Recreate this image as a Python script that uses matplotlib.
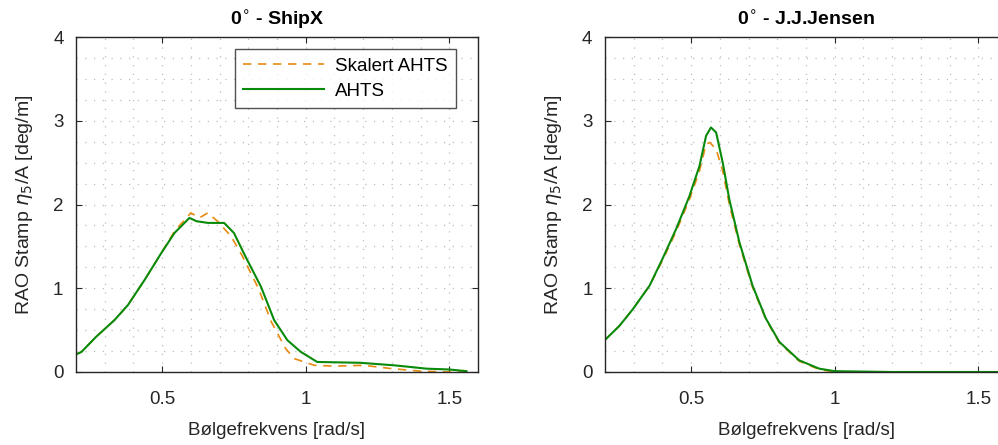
import matplotlib.pyplot as plt
import numpy as np
from matplotlib.ticker import MultipleLocator

plt.rcParams["font.family"] = ["Liberation Sans", "DejaVu Sans"]

# ShipX panel
shipx_x_ahts = [0.20, 0.219, 0.27, 0.334, 0.381, 0.439, 0.497, 0.543, 0.595, 0.62,
                0.66, 0.716, 0.75, 0.79, 0.844, 0.89, 0.936, 0.983, 1.04, 1.19,
                1.307, 1.365, 1.42, 1.50, 1.56]
shipx_y_ahts = [0.21, 0.24, 0.42, 0.62, 0.80, 1.10, 1.42, 1.66, 1.84, 1.80,
                1.78, 1.78, 1.66, 1.38, 1.02, 0.62, 0.38, 0.24, 0.12, 0.11,
                0.08, 0.06, 0.04, 0.03, 0.01]
shipx_x_skal = [0.20, 0.219, 0.27, 0.334, 0.381, 0.439, 0.497, 0.543, 0.60, 0.63,
                0.659, 0.693, 0.74, 0.78, 0.835, 0.88, 0.93, 0.96, 1.03, 1.10,
                1.20, 1.30, 1.40, 1.50, 1.56]
shipx_y_skal = [0.21, 0.24, 0.42, 0.62, 0.80, 1.10, 1.42, 1.68, 1.90, 1.84,
                1.90, 1.80, 1.62, 1.38, 1.00, 0.60, 0.28, 0.16, 0.08, 0.07,
                0.08, 0.04, 0.01, 0.00, 0.00]

# J.J.Jensen panel
jj_x_ahts = [0.199, 0.25, 0.297, 0.355, 0.40, 0.448, 0.494, 0.529, 0.552, 0.569,
             0.587, 0.61, 0.633, 0.668, 0.714, 0.76, 0.807, 0.876, 0.946, 1.0,
             1.2, 1.4, 1.6]
jj_y_ahts = [0.38, 0.55, 0.75, 1.03, 1.35, 1.71, 2.10, 2.46, 2.82, 2.92,
             2.86, 2.50, 2.06, 1.55, 1.03, 0.64, 0.36, 0.14, 0.04, 0.01,
             0.0, 0.0, 0.0]
jj_x_skal = [0.199, 0.25, 0.297, 0.355, 0.40, 0.448, 0.494, 0.529, 0.552, 0.565,
             0.587, 0.61, 0.633, 0.668, 0.714, 0.76, 0.807, 0.876, 0.946, 1.0,
             1.2, 1.4, 1.6]
jj_y_skal = [0.38, 0.55, 0.75, 1.03, 1.33, 1.68, 2.06, 2.40, 2.72, 2.74,
             2.66, 2.40, 2.00, 1.52, 1.01, 0.63, 0.35, 0.13, 0.03, 0.0,
             0.0, 0.0, 0.0]

orange = "#e88a10"
green = "#0a8a0a"
axcol = "#262626"

fig = plt.figure(figsize=(9.98, 4.45), dpi=100)
ax1 = fig.add_axes([76 / 998, 1 - 372 / 445, 402 / 998, 335 / 445])
ax2 = fig.add_axes([605 / 998, 1 - 372 / 445, 402 / 998, 335 / 445])

panels = [
    (ax1, shipx_x_skal, shipx_y_skal, shipx_x_ahts, shipx_y_ahts, r"0$^{\circ}$ - ShipX"),
    (ax2, jj_x_skal, jj_y_skal, jj_x_ahts, jj_y_ahts, r"0$^{\circ}$ - J.J.Jensen"),
]

for ax, xs, ys, xa, ya, title in panels:
    ax.plot(xs, ys, color=orange, linestyle=(0, (5, 4)), lw=1.2, label="Skalert AHTS")
    ax.plot(xa, ya, color=green, lw=1.5, label="AHTS")
    ax.set_xlim(0.2, 1.6)
    ax.set_ylim(0, 4)
    ax.xaxis.set_major_locator(MultipleLocator(0.5))
    ax.xaxis.set_minor_locator(MultipleLocator(0.1))
    ax.yaxis.set_major_locator(MultipleLocator(1))
    ax.yaxis.set_minor_locator(MultipleLocator(0.25))
    ax.grid(which="both", color="#bdbdbd", linestyle=(0, (1, 6)), lw=0.9)
    ax.tick_params(which="major", direction="in", length=4, top=True, right=True,
                   labelsize=13.5, colors=axcol, labelcolor=axcol)
    ax.tick_params(axis="x", pad=14)
    ax.tick_params(axis="y", pad=9)
    ax.tick_params(which="minor", length=0)
    for s in ax.spines.values():
        s.set_color(axcol)
        s.set_linewidth(1.0)
    ax.set_xticks([0.5, 1, 1.5])
    ax.set_xticklabels(["0.5", "1", "1.5"])
    ax.set_xlabel("Bølgefrekvens [rad/s]", fontsize=13.5, color=axcol, labelpad=10)
    ax.set_ylabel(r"RAO Stamp $\eta_5$/A [deg/m]", fontsize=14, color=axcol, labelpad=13)
    ax.set_title(title, fontsize=14, fontweight="bold", pad=8)

leg = ax1.legend(loc="upper right", bbox_to_anchor=(0.945, 0.963), fontsize=13.5,
                 frameon=True, fancybox=False, edgecolor=axcol, handlelength=4.3,
                 borderpad=0.45, labelspacing=0.4, handletextpad=0.6,
                 borderaxespad=0.0)
leg.get_frame().set_linewidth(1.0)

fig.savefig("out.png", dpi=100)
